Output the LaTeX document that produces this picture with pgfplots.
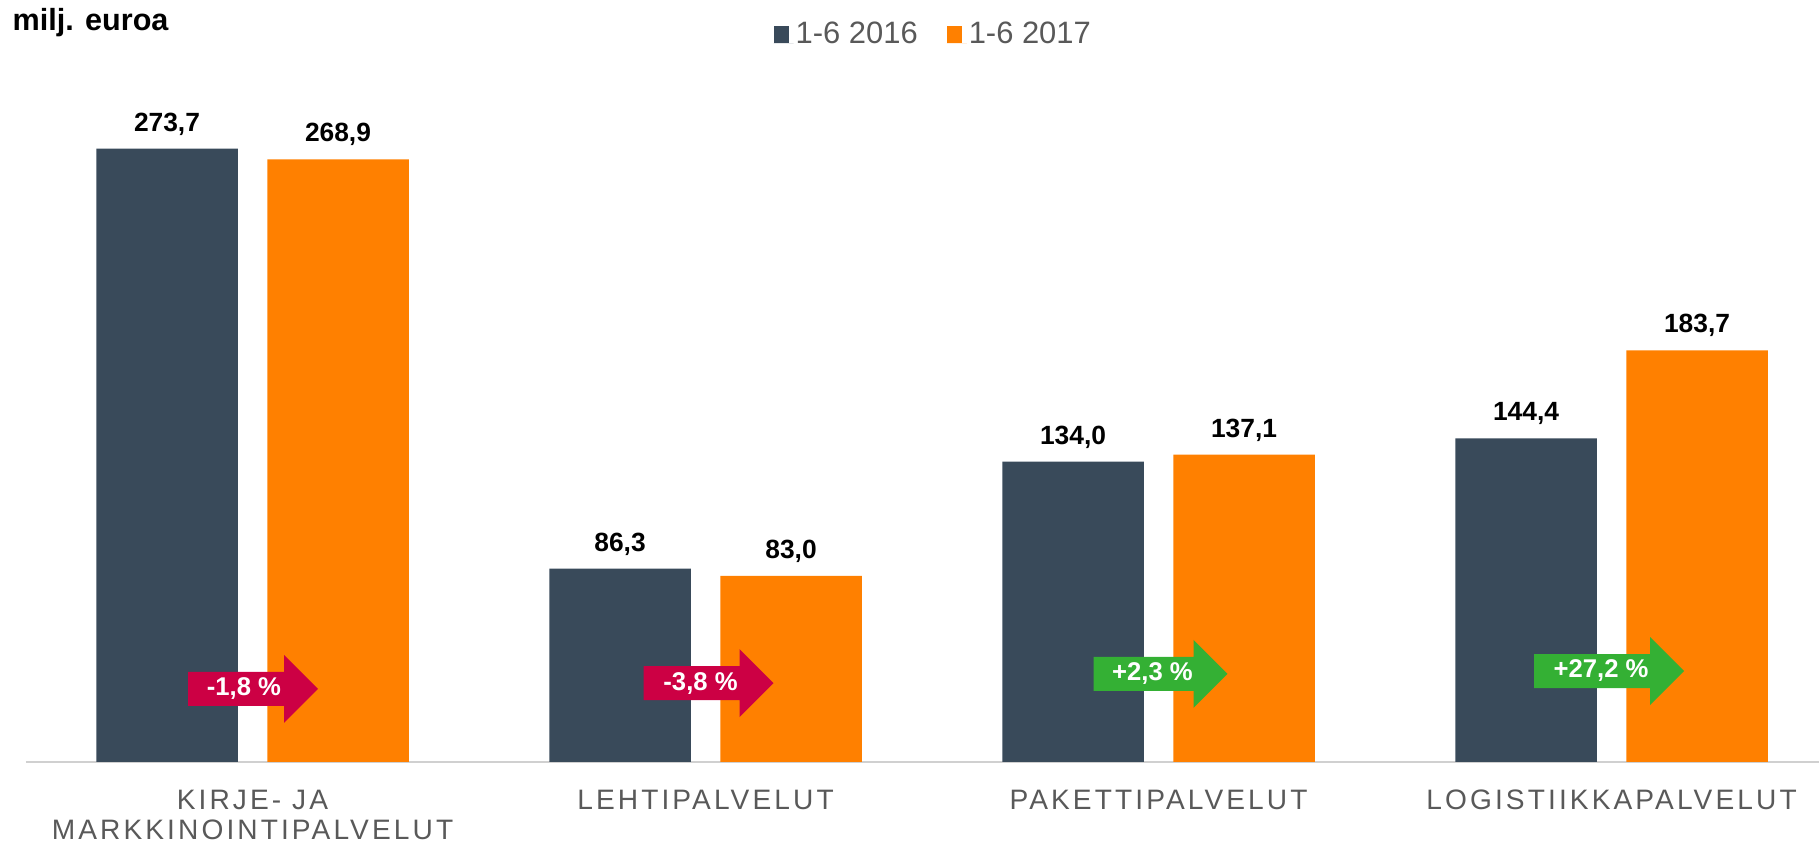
\documentclass[border=0pt]{standalone}
\usepackage{fontspec}
\setmainfont{Liberation Sans}
\usepackage{pgfplots}
\pgfplotsset{compat=1.18}

\definecolor{bardark}{HTML}{394A5A}
\definecolor{barorange}{HTML}{FF8000}
\definecolor{negred}{HTML}{CC0044}
\definecolor{posgreen}{HTML}{34B034}
\definecolor{lgray}{HTML}{595959}
\definecolor{axgray}{HTML}{D0D0D0}

% change arrow: x, y (data), left offset, body length, colour, text, text shift
\newcommand{\chg}[7]{%
  \fill[fill=#5] (axis cs:#1,#2) ++(#3cm,-0.17cm) -- ++(#4cm,0cm) -- ++(0cm,-0.17cm)
    -- ++(0.34cm,0.34cm) -- ++(-0.34cm,0.34cm) -- ++(0cm,-0.17cm) -- ++(-#4cm,0cm) -- cycle;
  \node[text=white, inner sep=0pt, font=\fontsize{7.3}{8}\selectfont\bfseries]
    at ([xshift=#7cm]axis cs:#1,#2) {#6};
}

\begin{document}
\begin{tikzpicture}
\useasboundingbox (0,0) rectangle (18.19cm,8.41cm);
\node[anchor=base west, inner sep=0pt, font=\fontsize{8.7}{10}\selectfont\bfseries]
  at (0.12cm,8.10cm) {milj. euroa};
\begin{axis}[
    at={(0.26cm,0.79cm)}, anchor=south west,
    scale only axis, width=17.93cm, height=7.62cm,
    xmin=-0.5, xmax=3.458, ymin=0, ymax=340,
    ybar, bar width=1.415cm,
    axis x line*=bottom, axis y line=none,
    x axis line style={draw=axgray, line width=0.025cm},
    xtick={0,1,2,3},
    xticklabels={{KIRJE- JA\\MARKKINOINTIPALVELUT},LEHTIPALVELUT,PAKETTIPALVELUT,LOGISTIIKKAPALVELUT},
    major tick length=0pt,
    xticklabel style={align=center, inner sep=0pt, anchor=north, yshift=-0.27cm, text=lgray,
      font=\fontsize{8}{8.54}\selectfont\addfontfeature{LetterSpace=11}},
    nodes near coords={\pgfmathprintnumber[fixed,fixed zerofill,precision=1,use comma,assume math mode=true]{\pgfplotspointmeta}},
    every node near coord/.append style={anchor=base, inner sep=0pt, yshift=0.175cm,
      font=\fontsize{7.5}{9}\selectfont\bfseries, text=black},
    legend style={at={(0.506,0.954)}, anchor=center, draw=none, fill=none,
      font=\fontsize{8.8}{10}\selectfont, text=lgray, inner sep=0pt,
      cells={anchor=base west},
      nodes={inner xsep=0.02cm, inner ysep=0pt},
      /tikz/every even column/.append style={column sep=0.27cm}},
    legend columns=2,
]
\addplot[fill=bardark, draw=none, bar shift=-0.855cm,
  legend image code/.code={\path (0cm,0cm) -- (0.2cm,0cm);
    \fill[fill=bardark] (0cm,0.005cm) rectangle (0.15cm,0.175cm);}]
  coordinates {(0,273.7) (1,86.3) (2,134.0) (3,144.4)};
\addlegendentry{1-6 2016}
\addplot[fill=barorange, draw=none, bar shift=0.855cm,
  legend image code/.code={\path (0cm,0cm) -- (0.2cm,0cm);
    \fill[fill=barorange] (0cm,0.005cm) rectangle (0.15cm,0.175cm);}]
  coordinates {(0,268.9) (1,83.0) (2,137.1) (3,183.7)};
\addlegendentry{1-6 2017}

\chg{0}{32.6}{-0.645}{0.96}{negred}{-1,8 \%}{-0.085}
\chg{1}{35.2}{-0.62}{0.96}{negred}{-3,8 \%}{-0.05}
\chg{2}{39.3}{-0.65}{1.00}{posgreen}{+2,3 \%}{-0.06}
\chg{3}{40.6}{-0.775}{1.16}{posgreen}{+27,2 \%}{-0.105}
\end{axis}
\end{tikzpicture}
\end{document}
